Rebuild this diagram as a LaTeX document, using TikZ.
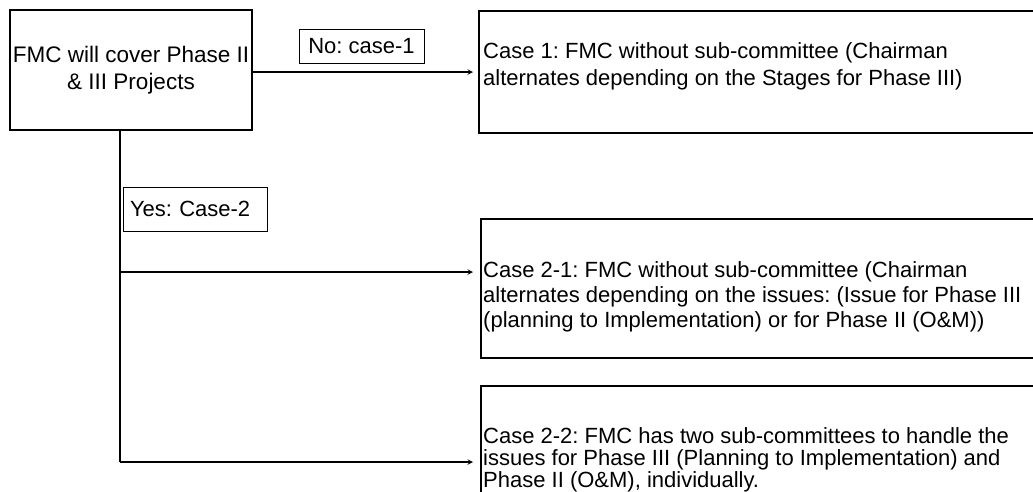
\documentclass[tikz,border=0pt]{standalone}
\usepackage{fontspec}
\setmainfont{Liberation Sans}
\frenchspacing

\begin{document}
\begin{tikzpicture}[x=1pt, y=-1pt,
    bigbox/.style={draw, line width=2pt, inner sep=0pt, anchor=north west, minimum width=620pt},
    tagbox/.style={draw, line width=0.9pt, inner sep=0pt, font=\fontsize{22}{25}\selectfont},
    casetext/.style={anchor=west, align=left, inner sep=0pt},
    link/.style={line width=1.4pt, >=stealth}]
        \useasboundingbox (0,0) rectangle (1033,491);
        % question
        \node[draw, line width=2pt, minimum width=242pt, minimum height=120pt, align=center,
              font=\fontsize{22.5}{27}\selectfont] (fmc) at (131,70) {FMC will cover Phase II\\ \& III Projects};
        % case boxes
        \node[bigbox, minimum height=122pt] (case1) at (478,10) {};
        \node[bigbox, minimum height=139pt] (case21) at (480,218) {};
        \node[bigbox, minimum height=200pt] (case22) at (480,385) {};
        \node[casetext, font=\fontsize{22}{27}\selectfont] (case1txt) at (483,66.5)
            {Case 1: FMC without sub-committee (Chairman\\ alternates depending on the Stages for Phase III)};
        \node[casetext, font=\fontsize{22}{25}\selectfont] (case21txt) at (483,297)
            {Case 2-1: FMC without sub-committee (Chairman\\ alternates depending on the issues: (Issue for Phase III\\ (planning to Implementation) or for Phase II (O\&M))};
        \node[casetext, font=\fontsize{22}{22}\selectfont] (case22txt) at (483,460)
            {Case 2-2: FMC has two sub-committees to handle the\\ issues for Phase III (Planning to Implementation) and\\ Phase II (O\&M), individually.};
        % answers
        \node[tagbox, minimum width=125pt, minimum height=34pt] (no) at (361.5,46) {No: case-1};
        \node[tagbox, text width=130pt, inner xsep=7pt, align=left, minimum height=44pt] (yes) at (195,209) {Yes: Case-2};
        % connectors
        \coordinate (split1) at (120,272);
        \coordinate (split2) at (120,462);
        \draw [link,->] (fmc.east |- case1.west) -- ([xshift=-5pt]case1.west);
        \draw [link] ([xshift=-11pt]fmc.south) -- (split2);
        \draw [link,->] (split1) -- ([xshift=-7pt]split1 -| case21.west);
        \draw [link,->] (split2) -- ([xshift=-7pt]split2 -| case22.west);
\end{tikzpicture}
\end{document}
